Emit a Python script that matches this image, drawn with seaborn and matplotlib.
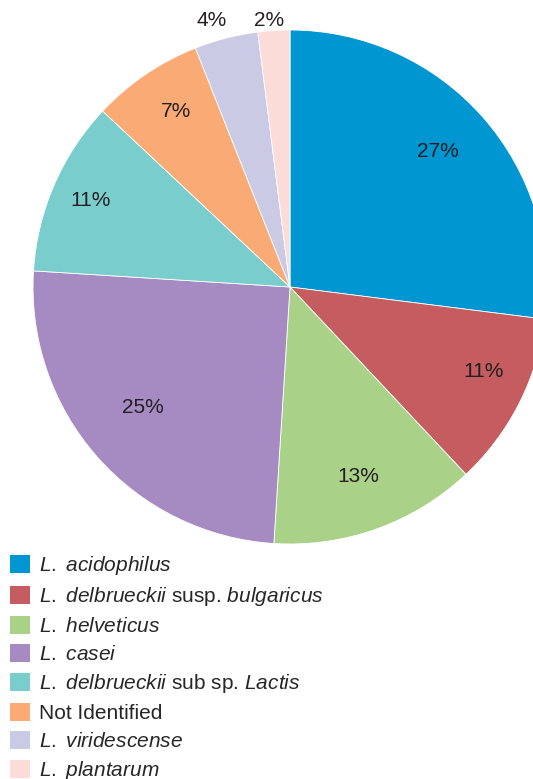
import numpy as np
import matplotlib
matplotlib.use("Agg")
import matplotlib.pyplot as plt
import matplotlib.patches as mpatches
import seaborn as sns

# ---- data ---------------------------------------------------------------
species = [
    r"$\it{L.\ acidophilus}$",
    r"$\it{L.\ delbrueckii}$ susp. $\it{bulgaricus}$",
    r"$\it{L.\ helveticus}$",
    r"$\it{L.\ casei}$",
    r"$\it{L.\ delbrueckii}$ sub sp. $\it{Lactis}$",
    "Not Identified",
    r"$\it{L.\ viridescense}$",
    r"$\it{L.\ plantarum}$",
]
shares = [27, 11, 13, 25, 11, 7, 4, 2]
colors = ["#0096D2", "#C55C5F", "#A9D288", "#A68BC3",
          "#79CDCD", "#F9AA75", "#CACAE5", "#FCDCD8"]
# percent label placement: radius fraction and angle nudge (deg)
label_dist = [0.78, 0.82, 0.785, 0.74, 0.845, 0.815, 1.08, 1.04]
label_nudge = [1.2, 3.5, 0, -2.2, 0, -1.3, 2, 1]

sns.set_theme(style="white")
plt.rcParams["font.family"] = ["Liberation Sans", "DejaVu Sans"]
plt.rcParams["mathtext.fontset"] = "custom"
plt.rcParams["mathtext.it"] = "Liberation Sans:italic"
plt.rcParams["mathtext.rm"] = "Liberation Sans"

W, H = 533, 779
fig = plt.figure(figsize=(W / 100, H / 100), dpi=100)
ax = fig.add_axes([0, 0, 1, 1])

wedges, _, autotexts = ax.pie(
    shares, colors=colors, startangle=90, counterclock=False,
    autopct=lambda p: f"{p:.0f}%", pctdistance=0.8,
    wedgeprops=dict(edgecolor="white", linewidth=0.6),
    textprops=dict(fontsize=15, color="#231F20"),
)
for w, t, d, n in zip(wedges, autotexts, label_dist, label_nudge):
    a = np.deg2rad((w.theta1 + w.theta2) / 2 + n)
    t.set_position((d * np.cos(a), d * np.sin(a)))
    t.set_clip_on(False)

# map data units to pixels: centre at (290, 287) px, radius 257 px
cx, cy, r = 290, 287, 257
ax.set_aspect("auto")
ax.set_xlim(-cx / r, (W - cx) / r)
ax.set_ylim(-(H - cy) / r, cy / r)
ax.axis("off")

handles = [mpatches.Patch(facecolor=c, edgecolor="none") for c in colors]
fig.legend(handles, species, loc="upper left",
           bbox_to_anchor=(10 / W, 1 - 554 / H), frameon=False,
           fontsize=15, handlelength=0.95, handleheight=0.95,
           handletextpad=0.43, labelspacing=0.38, borderaxespad=0,
           borderpad=0)

fig.savefig("out.png", dpi=100)
